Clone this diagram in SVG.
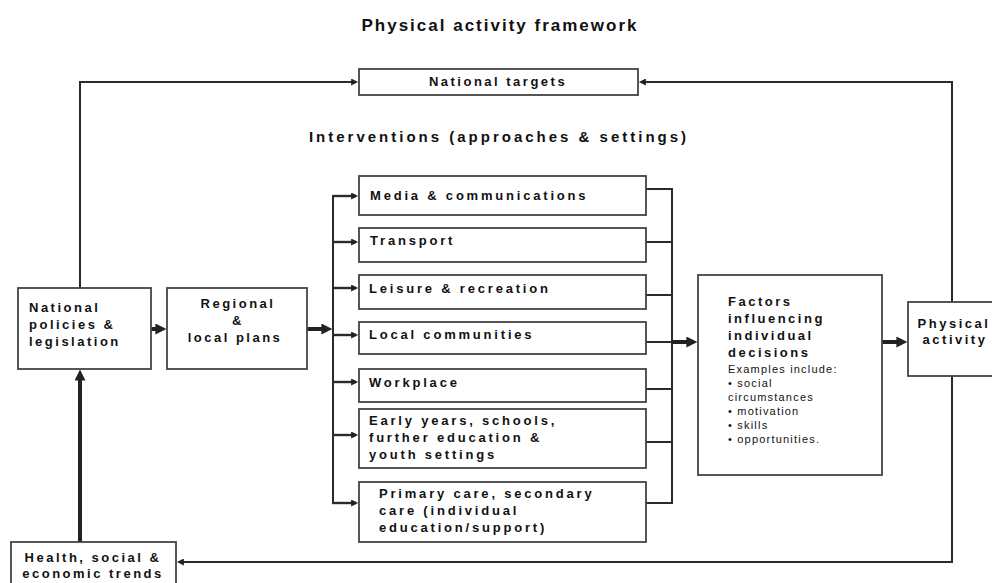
<svg xmlns="http://www.w3.org/2000/svg" width="992" height="583" viewBox="0 0 992 583">
<style>
text{font-family:"Liberation Sans",Arial,sans-serif;fill:#111}
.b{font-weight:bold;font-size:13px;letter-spacing:2.5px}
.w{letter-spacing:2.8px}
.s{font-size:11px;letter-spacing:1.2px}
.c{text-anchor:middle}
.box{fill:#fff;stroke:#444;stroke-width:1.8}
.ln{fill:none;stroke:#2a2a2a;stroke-width:2}
.br{fill:none;stroke:#2a2a2a;stroke-width:2.4}
.tk{fill:none;stroke:#222;stroke-width:4}
</style>
<defs>
<marker id="ah" viewBox="0 0 10 10" refX="7" refY="5" markerWidth="9" markerHeight="7" markerUnits="userSpaceOnUse" orient="auto"><path d="M0,0 L10,5 L0,10 z" fill="#222"/></marker>
<marker id="ahk" viewBox="0 0 10 10" refX="6" refY="5" markerWidth="12" markerHeight="11" markerUnits="userSpaceOnUse" orient="auto"><path d="M0,0 L10,5 L0,10 z" fill="#222"/></marker>
</defs>
<rect width="992" height="583" fill="#fff"/>
<text x="500" y="31" class="c" style="font-weight:bold;font-size:17px;letter-spacing:2px">Physical activity framework</text>
<text x="499" y="142" class="c" style="font-weight:bold;font-size:15px;letter-spacing:3px">Interventions (approaches &amp; settings)</text>
<g id="connectors">
<path class="ln" d="M80,288 V82 H356" marker-end="url(#ah)"/>
<path class="ln" d="M952,302 V82 H641" marker-end="url(#ah)"/>
<path class="ln" d="M952,376 V562 H179" marker-end="url(#ah)"/>
<path class="tk" d="M80,542 V374" marker-end="url(#ahk)"/>
<path class="tk" d="M151,329 H162" marker-end="url(#ahk)"/>
<path class="tk" d="M307,329 H328" marker-end="url(#ahk)"/>
<path class="ln" d="M333,195 V504"/>
<path class="br" d="M333,196 H356" marker-end="url(#ah)"/>
<path class="br" d="M333,242 H356" marker-end="url(#ah)"/>
<path class="br" d="M333,288 H356" marker-end="url(#ah)"/>
<path class="br" d="M333,335 H356" marker-end="url(#ah)"/>
<path class="br" d="M333,382 H356" marker-end="url(#ah)"/>
<path class="br" d="M333,435 H356" marker-end="url(#ah)"/>
<path class="br" d="M332,503 H356" marker-end="url(#ah)"/>
<path class="ln" d="M646,189 H672 V503 H646 M646,242 H672 M646,295 H672 M646,342 H672 M646,389 H672 M646,442 H672"/>
<path class="tk" d="M672,342 H693" marker-end="url(#ahk)"/>
<path class="tk" d="M882,342 H903" marker-end="url(#ahk)"/>
</g>
<g id="national-targets"><rect class="box" x="359" y="69" width="279" height="26"/><text class="b c" x="498" y="86">National targets</text></g>
<g id="national-policies"><rect class="box" x="18" y="288" width="133" height="81"/><text class="b" x="29" y="312">National</text><text class="b" x="29" y="329">policies &amp;</text><text class="b" x="29" y="346">legislation</text></g>
<g id="regional-plans"><rect class="box" x="167" y="288" width="140" height="81"/><text class="b c" x="238" y="308">Regional</text><text class="b c" x="238" y="325">&amp;</text><text class="b c" x="235" y="342">local plans</text></g>
<g id="media"><rect class="box" x="359" y="176" width="287" height="39"/><text class="b w" x="370" y="200">Media &amp; communications</text></g>
<g id="transport"><rect class="box" x="359" y="228" width="287" height="34"/><text class="b w" x="370" y="245">Transport</text></g>
<g id="leisure"><rect class="box" x="359" y="275" width="287" height="34"/><text class="b w" x="369" y="293">Leisure &amp; recreation</text></g>
<g id="local-communities"><rect class="box" x="359" y="322" width="287" height="32"/><text class="b w" x="369" y="339">Local communities</text></g>
<g id="workplace"><rect class="box" x="359" y="369" width="287" height="33"/><text class="b w" x="369" y="387">Workplace</text></g>
<g id="early-years"><rect class="box" x="359" y="409" width="287" height="59"/><text class="b w" x="369" y="425">Early years, schools,</text><text class="b w" x="369" y="442">further education &amp;</text><text class="b w" x="369" y="459">youth settings</text></g>
<g id="primary-care"><rect class="box" x="359" y="482" width="287" height="60"/><text class="b w" x="379" y="498">Primary care, secondary</text><text class="b w" x="379" y="515">care (individual</text><text class="b w" x="379" y="532">education/support)</text></g>
<g id="factors"><rect class="box" x="698" y="275" width="184" height="200"/>
<text class="b" x="728" y="306">Factors</text><text class="b" x="728" y="323">influencing</text><text class="b" x="728" y="340">individual</text><text class="b" x="728" y="357">decisions</text>
<text class="s" x="728" y="373">Examples include:</text>
<text class="s" x="728" y="387">• social</text>
<text class="s" x="728" y="401">circumstances</text>
<text class="s" x="728" y="415">• motivation</text>
<text class="s" x="728" y="429">• skills</text>
<text class="s" x="728" y="443">• opportunities.</text></g>
<g id="physical-activity"><rect class="box" x="908" y="302" width="100" height="74"/><text class="b c" x="954" y="328">Physical</text><text class="b c" x="955" y="344">activity</text></g>
<g id="health-trends"><rect class="box" x="11" y="542" width="165" height="50"/><text class="b c" x="93" y="562">Health, social &amp;</text><text class="b c" x="93" y="578">economic trends</text></g>
</svg>
